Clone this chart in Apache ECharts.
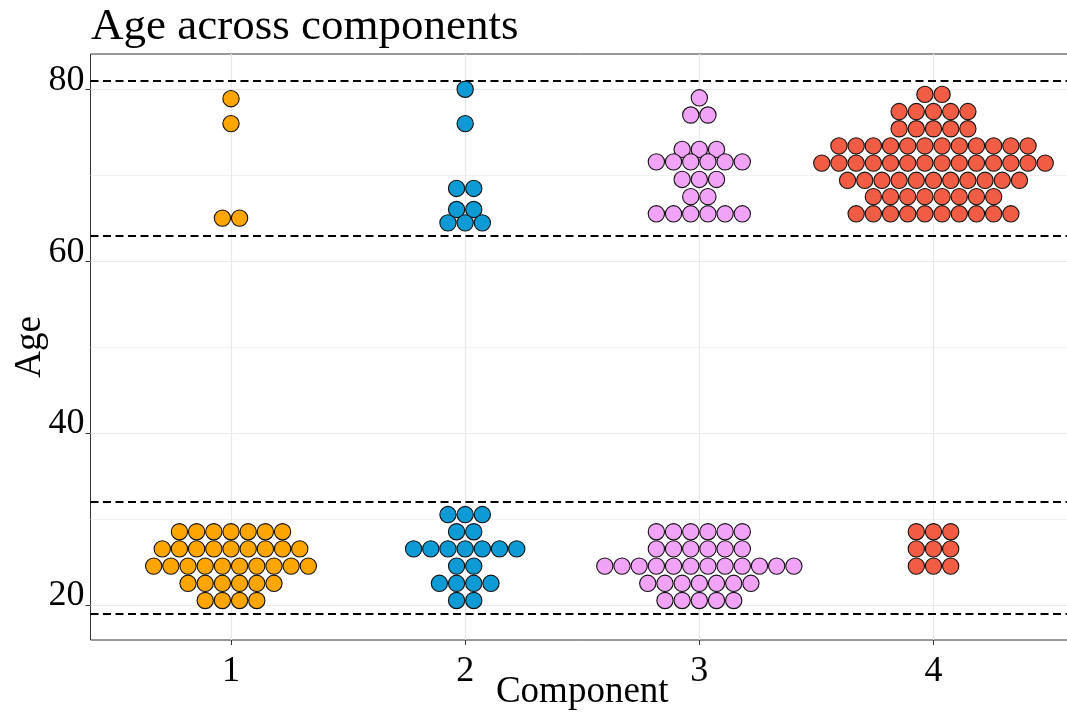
<!DOCTYPE html>
<html>
<head>
<meta charset="utf-8">
<script src="https://cdn.jsdelivr.net/npm/echarts@6/dist/echarts.min.js"></script>
<style>
html,body{margin:0;padding:0;background:#fff;}
#chart{width:1067px;height:717px;}
</style>
</head>
<body>
<div id="chart"></div>
<script>
// ---- data ----
const categories = ['1', '2', '3', '4'];
// binned ages (dot-row centres) and number of dots in each row, per component
const comp1Ages   = [78.9, 76.0, 65.0, 28.5, 26.5, 24.5, 22.5, 20.5];
const comp1Counts = [1, 1, 2, 7, 9, 10, 6, 4];
const comp2Ages   = [80.0, 76.0, 68.45, 66.0, 64.45, 30.5, 28.5, 26.5, 24.5, 22.5, 20.5];
const comp2Counts = [1, 1, 2, 2, 3, 3, 2, 7, 2, 4, 2];
const comp3Ages   = [79.0, 77.0, 73.0, 71.55, 69.5, 67.5, 65.5, 28.5, 26.5, 24.5, 22.5, 20.5];
const comp3Counts = [1, 2, 3, 6, 3, 2, 6, 6, 6, 12, 7, 5];
const comp4Ages   = [79.4, 77.4, 75.4, 73.4, 71.4, 69.4, 67.5, 65.5, 28.5, 26.5, 24.5];
const comp4Counts = [2, 5, 5, 12, 14, 11, 8, 10, 3, 3, 3];
const refLines    = [19, 32, 63, 81];
const yTickLabels = [20, 40, 60, 80];
const yMinorGrid  = [30, 50, 70];
const compColors  = ['#FFA500', '#0E9BD5', '#F0A3F7', '#F15C45'];

// ---- layout helpers ----
const DOT_X_STEP = 0.0734; // horizontal stacking step in x-axis units (one dot diameter)
const FONT = '"Liberation Serif", "DejaVu Serif", serif';

function buildDots(ages, counts, center) {
  const pts = [];
  ages.forEach((a, j) => {
    const n = counts[j];
    for (let m = 0; m < n; m++) {
      pts.push([center + (m - (n - 1) / 2) * DOT_X_STEP, a]);
    }
  });
  return pts;
}
const comps = [
  [comp1Ages, comp1Counts], [comp2Ages, comp2Counts],
  [comp3Ages, comp3Counts], [comp4Ages, comp4Counts]
];

const dotSeries = comps.map((c, i) => ({
  type: 'scatter',
  name: categories[i],
  data: buildDots(c[0], c[1], i + 1),
  symbol: 'circle',
  symbolSize: 16.3,
  itemStyle: { color: compColors[i], borderColor: '#111', borderWidth: 1.1, opacity: 1 },
  z: 5,
  silent: true
}));

const gridSeries = {
  type: 'line',
  data: [],
  silent: true,
  z: 1,
  markLine: {
    silent: true,
    symbol: 'none',
    label: { show: false },
    animation: false,
    data: [
      ...yTickLabels.map(v => ({ yAxis: v, lineStyle: { color: '#E8E8E8', width: 1.2, type: 'solid' } })),
      ...yMinorGrid.map(v => ({ yAxis: v, lineStyle: { color: '#EFEFEF', width: 0.8, type: 'solid' } })),
      ...categories.map((c, i) => ({ xAxis: i + 1, lineStyle: { color: '#E8E8E8', width: 1.2, type: 'solid' } }))
    ]
  }
};

const refSeries = {
  type: 'line',
  data: [],
  silent: true,
  z: 3,
  markLine: {
    silent: true,
    symbol: 'none',
    label: { show: false },
    animation: false,
    lineStyle: { color: '#000', width: 2, type: [8, 4.5] },
    data: refLines.map(v => ({ yAxis: v }))
  }
};

const chart = echarts.init(document.getElementById('chart'), null, { renderer: 'canvas' });
chart.setOption({
  animation: false,
  backgroundColor: '#fff',
  title: {
    text: 'Age across components',
    left: 86,
    top: 0,
    textStyle: { fontFamily: FONT, fontSize: 45, fontWeight: 'normal', color: '#000' }
  },
  grid: {
    left: 90.5, right: -7, top: 54, bottom: 77,
    containLabel: false, outerBoundsMode: 'none',
    show: true, borderColor: '#333', borderWidth: 1, backgroundColor: 'transparent'
  },
  xAxis: {
    type: 'value', min: 0.4, max: 4.6,
    name: 'Component', nameLocation: 'middle', nameGap: 34, nameMoveOverlap: false,
    nameTextStyle: { fontFamily: FONT, fontSize: 37, color: '#000' },
    axisLine: { show: false },
    axisTick: { show: true, length: 5, lineStyle: { color: '#333' }, customValues: [1, 2, 3, 4] },
    axisLabel: {
      customValues: [1, 2, 3, 4],
      formatter: v => categories[Math.round(v) - 1],
      fontFamily: FONT, fontSize: 36, color: '#000', margin: 14
    },
    splitLine: { show: false }
  },
  yAxis: {
    type: 'value', min: 15.9, max: 84.1,
    name: 'Age', nameLocation: 'middle', nameGap: 42, nameRotate: 90, nameMoveOverlap: false,
    nameTextStyle: { fontFamily: FONT, fontSize: 37, color: '#000' },
    axisLine: { show: false },
    axisTick: { show: true, length: 5, lineStyle: { color: '#333' }, customValues: yTickLabels },
    axisLabel: {
      customValues: yTickLabels,
      fontFamily: FONT, fontSize: 36, color: '#000', margin: 6,
      verticalAlign: 'bottom', lineHeight: 18
    },
    splitLine: { show: false }
  },
  series: [gridSeries, refSeries, ...dotSeries]
});
</script>
</body>
</html>
